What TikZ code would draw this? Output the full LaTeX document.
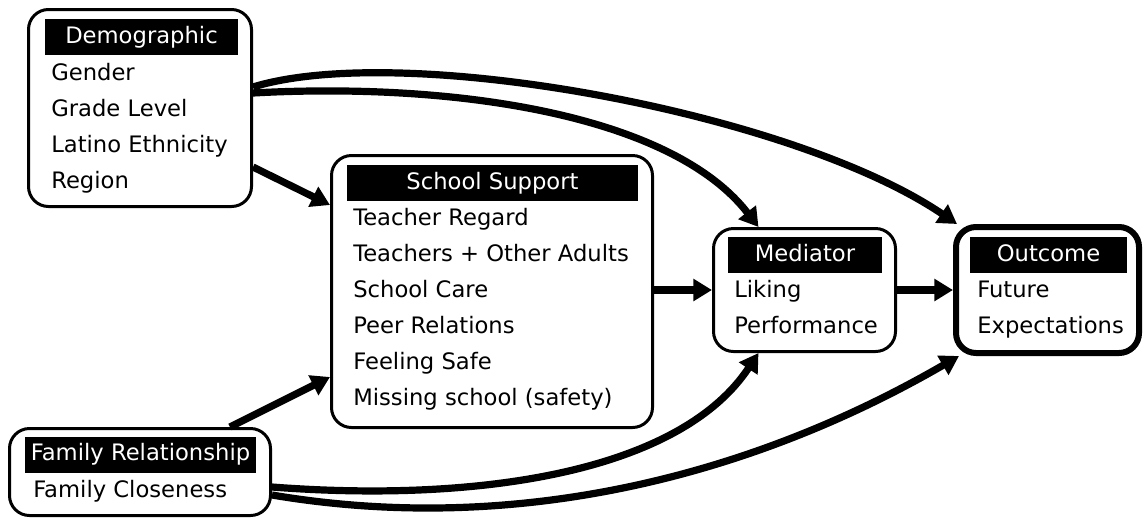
\documentclass[tikz,border=0pt]{standalone}
\usepackage{fontspec}
\setmainfont{DejaVu Sans}
\usetikzlibrary{arrows.meta,calc}
\begin{document}
\begin{tikzpicture}[x=0.75pt,y=-0.75pt,
  panel/.style={draw=black, line width=2.25pt, rounded corners=15pt, fill=white, inner sep=0pt},
  head/.style={fill=black, text=white, inner sep=0pt, minimum height=36*0.75pt,
    text height=12.5pt, text depth=3.5pt, font=\fontsize{17}{20}\selectfont},
  item/.style={anchor=base west, inner sep=0pt, font=\fontsize{17}{20}\selectfont},
  link/.style={line width=5.4pt, -{Triangle[length=14pt,width=16pt]}},
]
\useasboundingbox (0,0) rectangle (1148,519);

% panels
\node[panel, minimum width=223*0.75pt, minimum height=197*0.75pt] (demo) at (140,108) {};
\node[panel, minimum width=321*0.75pt, minimum height=272*0.75pt] (school) at (492,291.5) {};
\node[panel, minimum width=182*0.75pt, minimum height=123*0.75pt] (med) at (804.5,290) {};
\node[panel, line width=4.5pt, minimum width=183*0.75pt, minimum height=126*0.75pt] (out) at (1047.5,290) {};
\node[panel, minimum width=261*0.75pt, minimum height=87*0.75pt] (family) at (140,472) {};

% headers
\node[head, minimum width=193*0.75pt] (demoH) at (141.5,37) {Demographic};
\node[head, minimum width=291*0.75pt] (schoolH) at (492.5,183) {School Support};
\node[head, minimum width=154*0.75pt] (medH) at (805,255) {Mediator};
\node[head, minimum width=157*0.75pt] (outH) at (1048.5,255) {Outcome};
\node[head, minimum width=231*0.75pt] (familyH) at (140.5,454.5) {Family Relationship};

% items
\node[item] (d1) at (51,80) {Gender};
\node[item] (d2) at (51,116) {Grade Level};
\node[item] (d3) at (51,152) {Latino Ethnicity};
\node[item] (d4) at (51,188) {Region};

\node[item] (s1) at (353,225) {Teacher Regard};
\node[item] (s2) at (353,261) {Teachers + Other Adults};
\node[item] (s3) at (353,297) {School Care};
\node[item] (s4) at (353,333) {Peer Relations};
\node[item] (s5) at (353,369) {Feeling Safe};
\node[item] (s6) at (353,405) {Missing school (safety)};

\node[item] (m1) at (734,297) {Liking};
\node[item] (m2) at (734,333) {Performance};

\node[item] (o1) at (977,297) {Future};
\node[item] (o2) at (977,333) {Expectations};

\node[item] (f1) at (33,497) {Family Closeness};

% straight links
\draw[link] ($(demo.east)+(0,59)$) -- ($(school.west)+(0,-86.5)$);
\draw[link] ($(family.north)+(90,0)$) -- ($(school.west)+(0,85.5)$);
\draw[link] (school.east |- med.west) -- (med.west);
\draw[link] (med.east) -- (out.west);

% curved links
\draw[link] ($(demo.east)+(0,-15)$) .. controls +(198,-11) and +(-88,-113.5) .. ($(med.north)+(-46,0)$);
\draw[link] ($(demo.east)+(0,-21)$) .. controls +(150,-46) and +(-165,-112) .. ($(out.north west)+(4,0)$);
\draw[link] ($(family.east)+(0,15)$) .. controls +(209.5,16) and +(-78.5,118.5) .. ($(med.south)+(-46,0)$);
\draw[link] ($(family.east)+(0,23)$) .. controls +(249.5,42) and +(-202,117) .. ($(out.south west)+(6,0)$);
\end{tikzpicture}
\end{document}
